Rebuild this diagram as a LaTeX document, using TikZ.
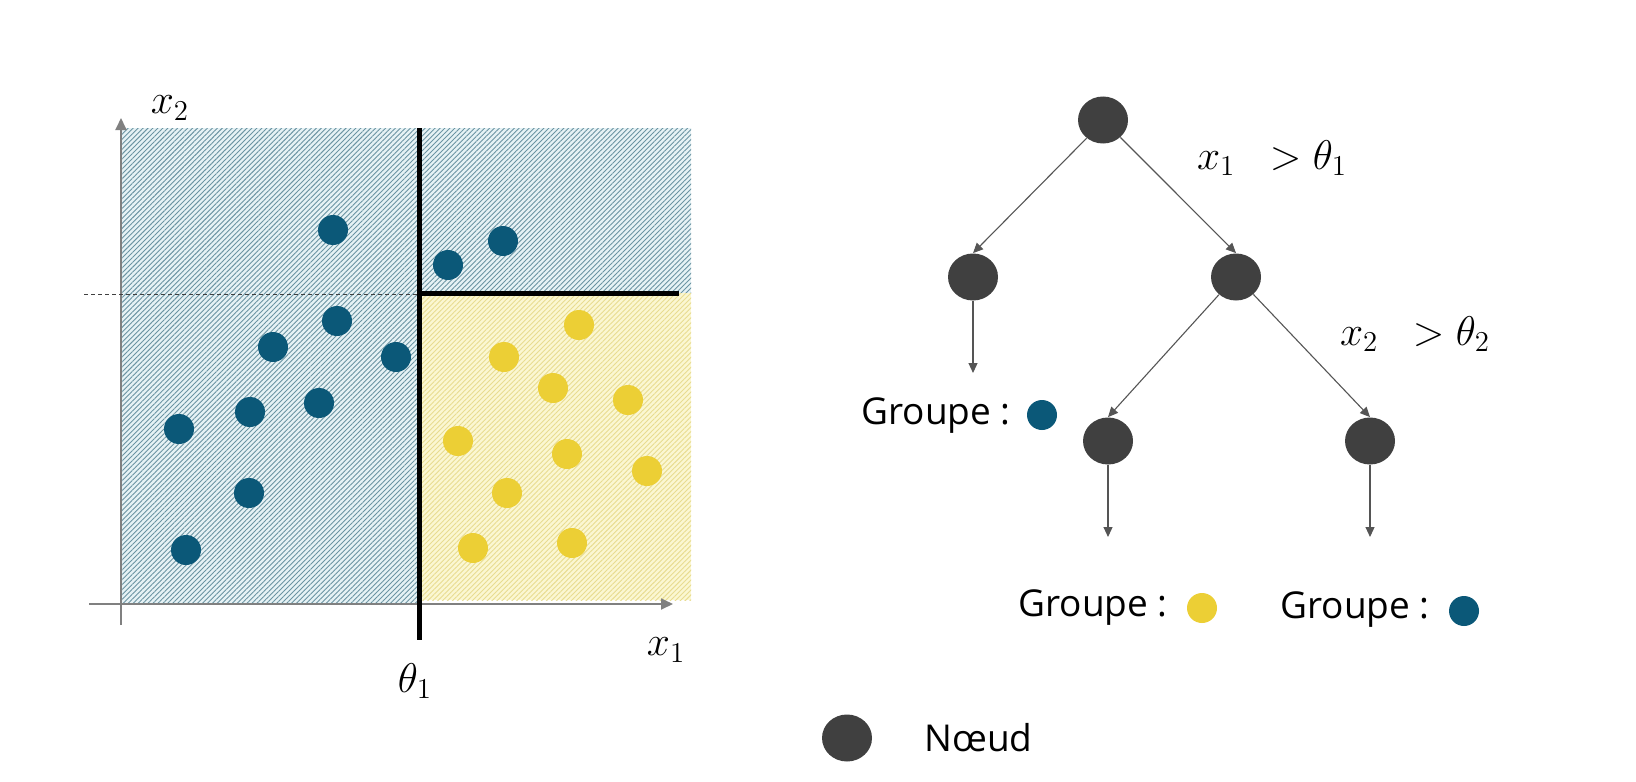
\documentclass[tikz,border=0pt]{standalone}
\usepackage[no-math]{fontspec}
\setmainfont{Open Sans}
\usetikzlibrary{shapes.geometric,arrows.meta,patterns.meta}
\definecolor{dotblue}{HTML}{0B5878}
\definecolor{dotyellow}{HTML}{ECCF35}
\definecolor{nodegray}{HTML}{404040}
\definecolor{arrowgray}{HTML}{555555}
\definecolor{axisgray}{HTML}{808080}
\definecolor{hatchbluebg}{HTML}{E6F2F5}
\definecolor{hatchblue}{HTML}{6A93A2}
\definecolor{hatchyellowbg}{HTML}{FBF7D2}
\definecolor{hatchyellow}{HTML}{E8DC90}
\begin{document}
\begin{tikzpicture}[x=0.5pt,y=-0.5pt,
  bdot/.style={circle,fill=dotblue,inner sep=0,minimum size=15pt},
  ydot/.style={circle,fill=dotyellow,inner sep=0,minimum size=15pt},
  tnode/.style={ellipse,fill=nodegray,inner sep=0,minimum width=25pt,minimum height=23.5pt},
  conn/.style={draw=arrowgray,line width=0.55pt,-{Triangle[length=5pt,width=4.5pt]}},
  axisline/.style={draw=axisgray,line width=0.9pt,-{Triangle[length=6pt,width=5.5pt]}},
  bluezone/.style={fill=hatchbluebg,postaction={pattern={Lines[angle=45,distance=1.75pt,line width=0.45pt]},pattern color=hatchblue}},
  yellowzone/.style={fill=hatchyellowbg,postaction={pattern={Lines[angle=45,distance=1.75pt,line width=0.45pt]},pattern color=hatchyellow}},
  mlbl/.style={inner sep=0,font=\fontsize{21}{24}\selectfont},
  glbl/.style={inner sep=0,font=\fontsize{18.5}{22}\selectfont}]
\useasboundingbox (0,0) rectangle (1636,781);
\fill[white] (0,0) rectangle (1636,781);
% zones
\path[bluezone] (121,128) rectangle (419,604);
\path[bluezone] (419,128) rectangle (691,293);
\path[yellowzone] (419,293) rectangle (691,600);
% axes
\coordinate (xa0) at (89,604);
\coordinate (xa1) at (673,604);
\coordinate (ya0) at (121,625);
\coordinate (ya1) at (121,118);
\draw[axisline] (xa0) -- (xa1);
\draw[axisline] (ya0) -- (ya1);
% split lines
\coordinate (dl0) at (84,294);
\coordinate (dl1) at (419,294);
\draw[nodegray,line width=0.5pt,dash pattern=on 2pt off 1.5pt] (dl0) -- (dl1);
\coordinate (v0) at (419,128);
\coordinate (v1) at (419,640);
\coordinate (h1) at (679,293);
\coordinate (vm) at (419,293);
\draw[line width=2.5pt] (v0) -- (v1);
\draw[line width=2.5pt] (vm) -- (h1);
% axis labels
\node[mlbl] (lx2) at (170,108) {$x_2$};
\node[mlbl] (lx1) at (666,650) {$x_1$};
\node[mlbl] (lth) at (415,681) {$\theta_1$};
% blue dots
\node[bdot] (b1) at (333,230) {};
\node[bdot] (b2) at (503,241) {};
\node[bdot] (b3) at (448,265) {};
\node[bdot] (b4) at (337,321) {};
\node[bdot] (b5) at (273,347) {};
\node[bdot] (b6) at (396,357) {};
\node[bdot] (b7) at (179,429) {};
\node[bdot] (b8) at (250,412) {};
\node[bdot] (b9) at (319,403) {};
\node[bdot] (b10) at (249,493) {};
\node[bdot] (b11) at (186,550) {};
% yellow dots
\node[ydot] (y1) at (579,325) {};
\node[ydot] (y2) at (504,357) {};
\node[ydot] (y3) at (553,388) {};
\node[ydot] (y4) at (628,400) {};
\node[ydot] (y5) at (458,441) {};
\node[ydot] (y6) at (567,454) {};
\node[ydot] (y7) at (647,471) {};
\node[ydot] (y8) at (507,493) {};
\node[ydot] (y9) at (473,548) {};
\node[ydot] (y10) at (572,543) {};
% tree
\node[tnode] (root) at (1103,120) {};
\node[tnode] (lc) at (973,277) {};
\node[tnode] (rc) at (1236,277) {};
\node[tnode] (ll) at (1108,441) {};
\node[tnode] (lr) at (1370,441) {};
\coordinate (lcend) at (973,373);
\coordinate (llend) at (1108,537);
\coordinate (lrend) at (1370,537);
\draw[conn] (root.228) -- (lc.north);
\draw[conn] (root.-45) -- (rc.north);
\draw[conn] (rc.226) -- (ll.north);
\draw[conn] (rc.-45) -- (lr.north);
\draw[conn] (lc.south) -- (lcend);
\draw[conn] (ll.south) -- (llend);
\draw[conn] (lr.south) -- (lrend);
\node[mlbl] (c1) at (1272,158) {$x_1\;\;>\theta_1$};
\node[mlbl] (c2) at (1415,334) {$x_2\;\;>\theta_2$};
% groups
\node[glbl,anchor=east] (g1) at (1011,416) {Groupe :};
\node[bdot] (g1d) at (1042,415) {};
\node[glbl,anchor=east] (g2) at (1168,608) {Groupe :};
\node[ydot] (g2d) at (1202,608) {};
\node[glbl,anchor=east] (g3) at (1430,610) {Groupe :};
\node[bdot] (g3d) at (1464,611) {};
% legend
\node[tnode] (leg) at (847,738) {};
\node[glbl,anchor=west] (legt) at (924,738) {Nœud};
\end{tikzpicture}
\end{document}
